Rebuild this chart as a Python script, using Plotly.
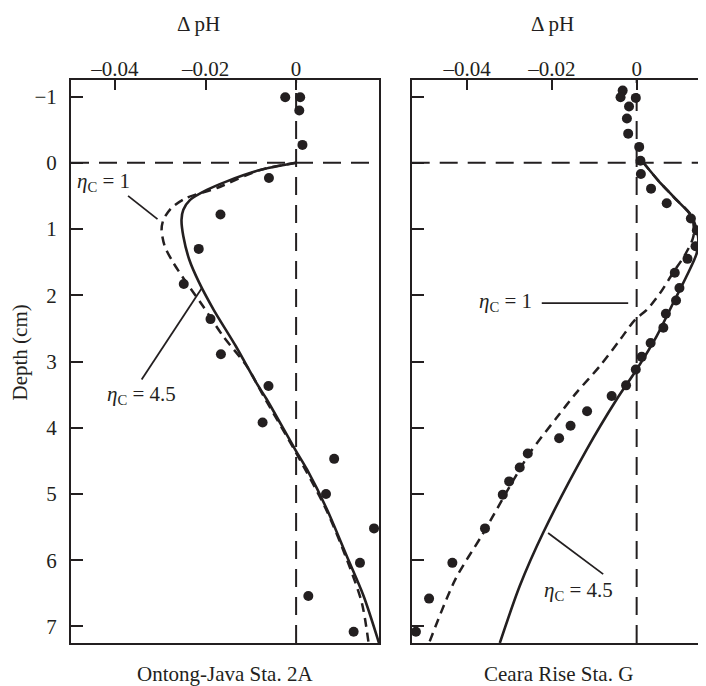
import plotly.graph_objects as go

INK = "#231f20"
FONT = "Liberation Serif"

# ---------------- data ----------------
depth_ticks = [-1, 0, 1, 2, 3, 4, 5, 6, 7]
dph_ticks = [-0.04, -0.02, 0]
dph_ticktext = ["–0.04", "–0.02", "0"]

# Ontong-Java Sta. 2A (left panel)
oj_obs_dph = [-0.0024, 0.0009, 0.0007, 0.0014, -0.0060, -0.0167, -0.0215, -0.0248, -0.0189,
              -0.0166, -0.0061, -0.0074, 0.0084, 0.0066, 0.0172, 0.0141, 0.0027, 0.0127]
oj_obs_depth = [-0.99, -0.99, -0.79, -0.27, 0.23, 0.78, 1.30, 1.83, 2.36,
                2.89, 3.37, 3.92, 4.47, 5.00, 5.52, 6.04, 6.54, 7.08]

oj_eta45_dph = [0, -0.0080, -0.0153, -0.0197, -0.0234, -0.0249, -0.0253, -0.0249, -0.0236, -0.0214,
                -0.0182, -0.0133, -0.0088, -0.0065, -0.0002, 0.0024, 0.0068, 0.0112, 0.0149, 0.0183]
oj_eta45_depth = [0, 0.11, 0.28, 0.41, 0.56, 0.71, 0.86, 1.11, 1.46, 1.81,
                  2.22, 2.77, 3.32, 3.57, 4.33, 4.63, 5.23, 5.94, 6.54, 7.25]

oj_eta1_dph = [0, -0.0080, -0.0175, -0.0242, -0.0275, -0.0293, -0.0297, -0.0290, -0.0271, -0.0242,
               -0.0205, -0.0161, -0.0109, -0.0068, -0.0004, 0.0066, 0.0112, 0.0145, 0.0160]
oj_eta1_depth = [0, 0.11, 0.38, 0.53, 0.68, 0.86, 1.01, 1.26, 1.51, 1.81,
                 2.17, 2.62, 3.07, 3.57, 4.33, 5.23, 5.99, 6.64, 7.25]

# Ceara Rise Sta. G (right panel)
cr_obs_dph = [-0.0033, -0.0038, -0.0002, -0.0018, -0.0023, -0.0020, 0.0006, 0.0009, 0.0010, 0.0034,
              0.0071, 0.0128, 0.0142, 0.0139, 0.0120, 0.0090, 0.0101, 0.0093, 0.0069, 0.0063,
              0.0033, 0.0012, -0.0002, -0.0025, -0.0059, -0.0117, -0.0156, -0.0183, -0.0257, -0.0276,
              -0.0301, -0.0316, -0.0358, -0.0435, -0.0490, -0.0521]
cr_obs_depth = [-1.09, -0.99, -0.98, -0.85, -0.67, -0.44, -0.24, -0.03, 0.17, 0.39,
                0.61, 0.84, 1.02, 1.26, 1.45, 1.66, 1.89, 2.08, 2.28, 2.49,
                2.72, 2.93, 3.12, 3.36, 3.52, 3.75, 3.97, 4.16, 4.39, 4.60,
                4.81, 5.01, 5.52, 6.04, 6.58, 7.08]

cr_eta45_dph = [0.0016, 0.0050, 0.0088, 0.0130, 0.0145, 0.0142, 0.0118, 0.0086, 0.0047, 0.0,
                -0.0047, -0.0118, -0.0221, -0.0276, -0.0323]
cr_eta45_depth = [0, 0.26, 0.52, 0.81, 1.11, 1.36, 1.71, 2.12, 2.62, 3.12,
                  3.57, 4.33, 5.59, 6.39, 7.25]

cr_eta1_dph = [0.0016, 0.0050, 0.0088, 0.0130, 0.0134, 0.0114, 0.0086, 0.0055, 0.0024, -0.0004,
               -0.0039, -0.0087, -0.0142, -0.0189, -0.0252, -0.0299, -0.0362, -0.0428, -0.0490]
cr_eta1_depth = [0, 0.26, 0.52, 0.81, 1.11, 1.39, 1.66, 1.97, 2.22, 2.37,
                 2.67, 3.07, 3.47, 3.85, 4.38, 4.88, 5.59, 6.29, 7.25]

# ---------------- figure ----------------
# the page body adds an 8px margin, so the figure is 8px smaller and everything is shifted by 8px
W, H = 698, 678
ydom = [1 - 635 / H, 1 - 72 / H]
FS = 21

fig = go.Figure()

def add_panel(xa, ya, obs_x, obs_y, s_x, s_y, d_x, d_y):
    fig.add_trace(go.Scatter(x=d_x, y=d_y, mode="lines", xaxis=xa, yaxis=ya,
                             line=dict(color=INK, width=2.5, dash="9px,6px", shape="spline", smoothing=0.8),
                             showlegend=False, hoverinfo="skip"))
    fig.add_trace(go.Scatter(x=s_x, y=s_y, mode="lines", xaxis=xa, yaxis=ya,
                             line=dict(color=INK, width=2.6, shape="spline", smoothing=0.8),
                             showlegend=False, hoverinfo="skip"))
    fig.add_trace(go.Scatter(x=obs_x, y=obs_y, mode="markers", xaxis=xa, yaxis=ya,
                             marker=dict(color=INK, size=10),
                             showlegend=False))

add_panel("x", "y", oj_obs_dph, oj_obs_depth, oj_eta45_dph, oj_eta45_depth, oj_eta1_dph, oj_eta1_depth)
add_panel("x2", "y2", cr_obs_dph, cr_obs_depth, cr_eta45_dph, cr_eta45_depth, cr_eta1_dph, cr_eta1_depth)

axis_common = dict(showgrid=False, zeroline=False, showline=True, linecolor=INK, linewidth=2,
                   ticks="inside", tickcolor=INK, tickwidth=2,
                   tickfont=dict(family=FONT, size=FS, color=INK))

fig.update_layout(
    width=W, height=H,
    margin=dict(l=0, r=0, t=0, b=0, pad=0),
    paper_bgcolor="white", plot_bgcolor="white",
    font=dict(family=FONT, size=FS, color=INK),
    xaxis=dict(domain=[63 / W, 371 / W], range=[-0.0497, 0.0183], side="top", anchor="y",
               tickvals=dph_ticks, ticktext=dph_ticktext, ticklen=10, mirror=True,
               ticklabelstandoff=-6, **axis_common),
    yaxis=dict(domain=ydom, range=[7.25, -1.25], anchor="x", tickvals=depth_ticks,
               ticklen=12, mirror=True, ticklabelstandoff=8, **axis_common),
    xaxis2=dict(domain=[403.7 / W, 1.0], range=[-0.0531, 0.01637], side="top", anchor="y2",
                tickvals=dph_ticks, ticktext=dph_ticktext, ticklen=10, mirror=True,
                ticklabelstandoff=-6, **axis_common),
    yaxis2=dict(domain=ydom, range=[7.25, -1.25], anchor="x2", tickvals=depth_ticks,
                ticklen=12, mirror=False, showticklabels=False, **axis_common),
)

# reference dashed lines at zero
for xr, yr in (("x", "y"), ("x2", "y2")):
    fig.add_shape(type="line", xref=xr, yref=yr + " domain", x0=0, x1=0, y0=0, y1=1,
                  line=dict(color=INK, width=2, dash="18px,10px"), layer="below")
    fig.add_shape(type="line", xref=xr + " domain", yref=yr, x0=0, x1=1, y0=0, y1=0,
                  line=dict(color=INK, width=2, dash="18px,10px"), layer="below")

# leader lines for the labels
leaders = [
    ("x", "y", -0.0371, 0.50, -0.0306, 0.85),
    ("x", "y", -0.0341, 3.27, -0.0208, 1.89),
    ("x2", "y2", -0.0224, 2.12, -0.0020, 2.12),
    ("x2", "y2", -0.0209, 5.59, -0.0079, 6.21),
]
for xr, yr, x0, y0, x1, y1 in leaders:
    fig.add_shape(type="line", xref=xr, yref=yr, x0=x0, y0=y0, x1=x1, y1=y1,
                  line=dict(color=INK, width=1.8))

labels = [
    ("x", "y", -0.0488, 0.29, "<i>η</i><sub>C</sub> = 1"),
    ("x", "y", -0.0422, 3.50, "<i>η</i><sub>C</sub> = 4.5"),
    ("x2", "y2", -0.0378, 2.10, "<i>η</i><sub>C</sub> = 1"),
    ("x2", "y2", -0.0224, 6.46, "<i>η</i><sub>C</sub> = 4.5"),
]
for xr, yr, x, y, t in labels:
    fig.add_annotation(xref=xr, yref=yr, x=x, y=y, text=t, showarrow=False,
                       xanchor="left", yanchor="middle", font=dict(family=FONT, size=FS, color=INK))

paper_text = [
    (190 / W, 1 - 16 / H, "Δ pH", 0),
    (544 / W, 1 - 16 / H, "Δ pH", 0),
    (217 / W, 1 - 666 / H, "Ontong-Java Sta. 2A", 0),
    (550 / W, 1 - 666 / H, "Ceara Rise Sta. G", 0),
    (11.5 / W, 1 - 345 / H, "Depth (cm)", -90),
]
for x, y, t, ang in paper_text:
    fig.add_annotation(xref="paper", yref="paper", x=x, y=y, text=t, showarrow=False,
                       xanchor="center", yanchor="middle", textangle=ang,
                       font=dict(family=FONT, size=FS, color=INK))

fig.write_html("out.html")
